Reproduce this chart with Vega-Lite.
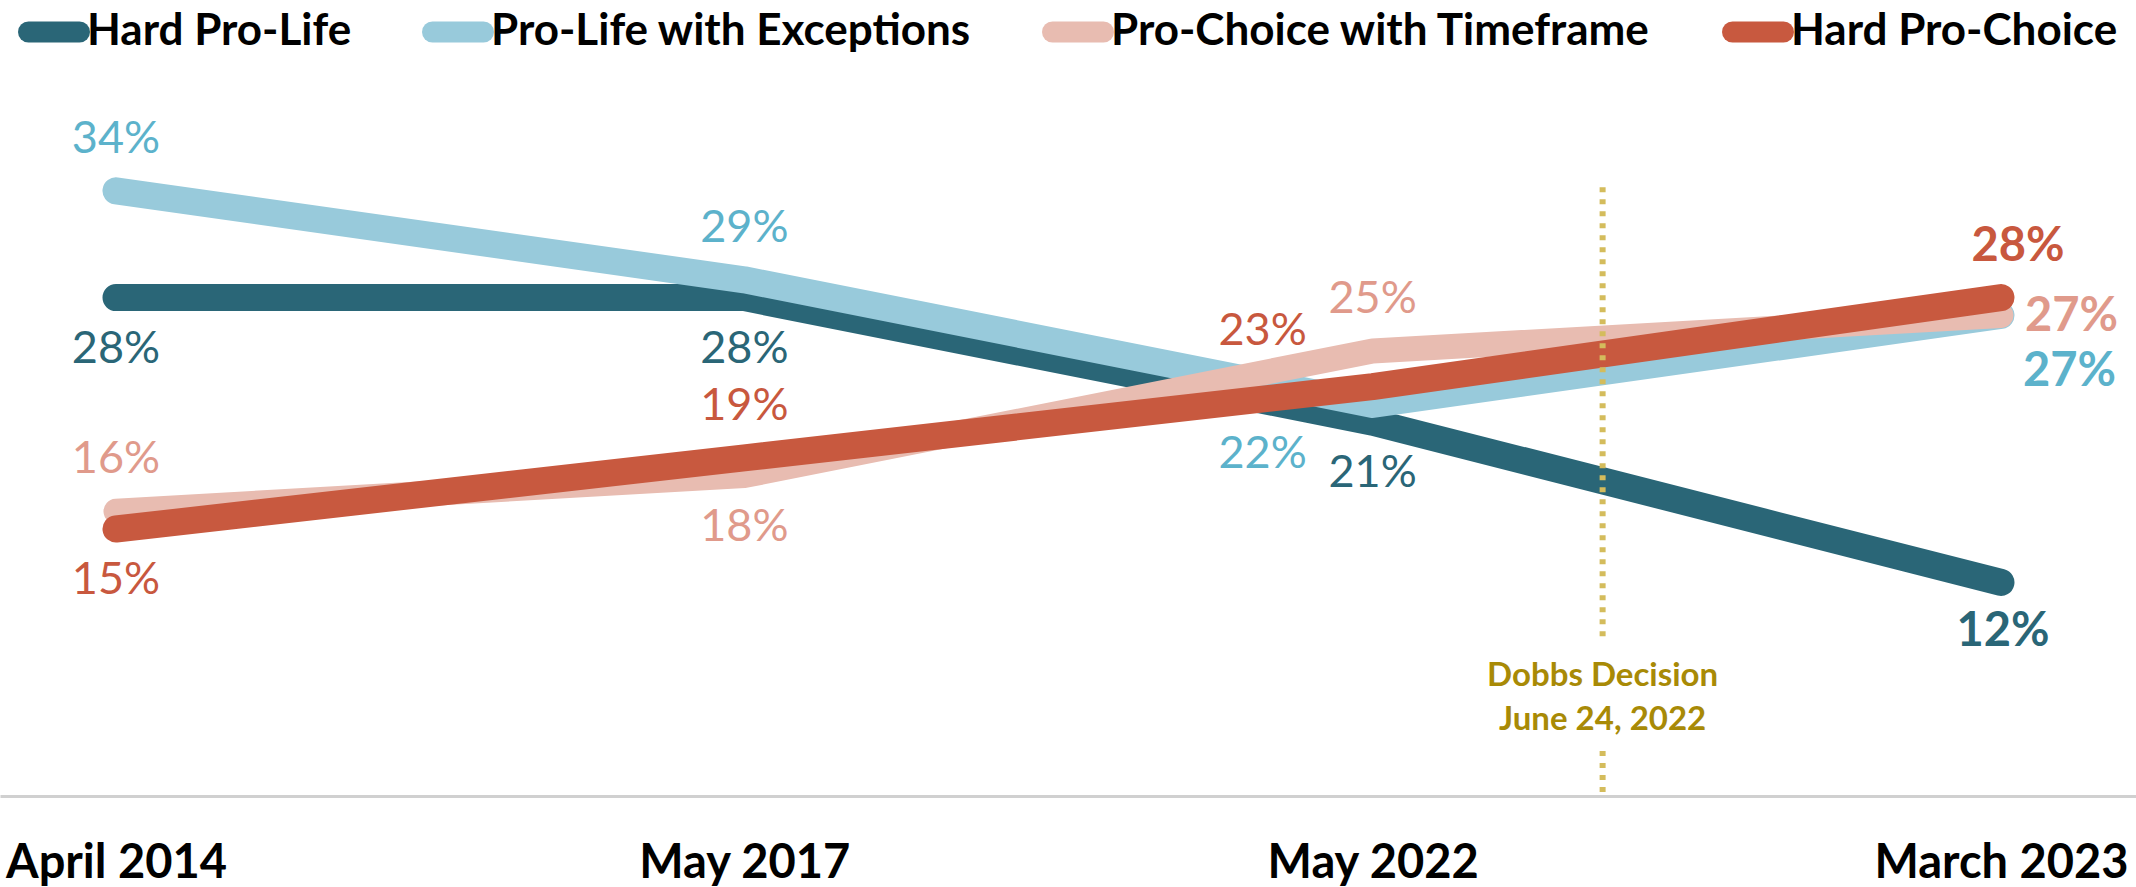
{
  "$schema": "https://vega.github.io/schema/vega-lite/v6.json",
  "width": 2136,
  "height": 887,
  "autosize": {"type": "none"},
  "padding": 0,
  "background": "white",
  "config": {"view": {"stroke": null}, "font": "Lato"},
  "datasets": {
    "survey": [
      {"date": "April 2014", "idx": 0, "series": "Hard Pro-Life", "pct": 0.28},
      {"date": "May 2017", "idx": 1, "series": "Hard Pro-Life", "pct": 0.28},
      {"date": "May 2022", "idx": 2, "series": "Hard Pro-Life", "pct": 0.21},
      {"date": "March 2023", "idx": 3, "series": "Hard Pro-Life", "pct": 0.12},
      {"date": "April 2014", "idx": 0, "series": "Pro-Life with Exceptions", "pct": 0.34},
      {"date": "May 2017", "idx": 1, "series": "Pro-Life with Exceptions", "pct": 0.29},
      {"date": "May 2022", "idx": 2, "series": "Pro-Life with Exceptions", "pct": 0.22},
      {"date": "March 2023", "idx": 3, "series": "Pro-Life with Exceptions", "pct": 0.27},
      {"date": "April 2014", "idx": 0, "series": "Pro-Choice with Timeframe", "pct": 0.16},
      {"date": "May 2017", "idx": 1, "series": "Pro-Choice with Timeframe", "pct": 0.18},
      {"date": "May 2022", "idx": 2, "series": "Pro-Choice with Timeframe", "pct": 0.25},
      {"date": "March 2023", "idx": 3, "series": "Pro-Choice with Timeframe", "pct": 0.27},
      {"date": "April 2014", "idx": 0, "series": "Hard Pro-Choice", "pct": 0.15},
      {"date": "May 2017", "idx": 1, "series": "Hard Pro-Choice", "pct": 0.19},
      {"date": "May 2022", "idx": 2, "series": "Hard Pro-Choice", "pct": 0.23},
      {"date": "March 2023", "idx": 3, "series": "Hard Pro-Choice", "pct": 0.28}
    ]
  },
  "data": {"name": "survey"},
  "encoding": {
    "x": {
      "field": "idx",
      "type": "quantitative",
      "scale": {"domain": [-0.1846, 3.2149], "nice": false, "zero": false},
      "axis": {
        "title": null,
        "values": [0, 1, 2, 3],
        "labelExpr": "['April 2014','May 2017','May 2022','March 2023'][datum.value]",
        "offset": -91,
        "ticks": false,
        "grid": false,
        "domainColor": "#d0d0d0",
        "domainWidth": 3,
        "labelFont": "Lato",
        "labelFontWeight": "bold",
        "labelFontSize": 47,
        "labelColor": "black",
        "labelPadding": 44,
        "labelBaseline": "top",
        "labelFlush": false,
        "labelOverlap": false,
        "labelBound": false,
        "labelLimit": 0
      }
    },
    "y": {
      "field": "pct",
      "type": "quantitative",
      "scale": {"domain": [-0.05112, 0.4472], "nice": false, "zero": false},
      "axis": null
    }
  },
  "layer": [
    {
      "encoding": {
        "color": {
          "field": "series",
          "type": "nominal",
          "scale": {
            "domain": ["Hard Pro-Life", "Pro-Life with Exceptions", "Pro-Choice with Timeframe", "Hard Pro-Choice"],
            "range": ["#2a6677", "#98cadb", "#e8bcb1", "#c8593f"]
          },
          "legend": {
            "title": null,
            "orient": "none",
            "legendX": 18,
            "legendY": -4,
            "direction": "horizontal",
            "symbolType": "stroke",
            "symbolStrokeWidth": 21,
            "symbolSize": 2601,
            "symbolOpacity": 1,
            "labelFont": "Lato",
            "labelFontWeight": "bold",
            "labelFontSize": 44,
            "labelColor": "black",
            "labelLimit": 0,
            "labelOffset": -3,
            "columnPadding": 38,
            "encoding": {"symbols": {"strokeCap": {"value": "round"}}}
          }
        }
      },
      "layer": [
        {"transform": [{"filter": "datum.series === 'Hard Pro-Life'"}], "mark": {"type": "line", "strokeWidth": 27, "strokeCap": "round", "strokeJoin": "round"}},
        {"transform": [{"filter": "datum.series === 'Pro-Life with Exceptions'"}], "mark": {"type": "line", "strokeWidth": 27, "strokeCap": "round", "strokeJoin": "round"}},
        {"transform": [{"filter": "datum.series === 'Pro-Choice with Timeframe'"}], "mark": {"type": "line", "strokeWidth": 25, "strokeCap": "round", "strokeJoin": "round"}},
        {"transform": [{"filter": "datum.series === 'Hard Pro-Choice'"}], "mark": {"type": "line", "strokeWidth": 27, "strokeCap": "round", "strokeJoin": "round"}}
      ]
    },
    {
      "encoding": {
        "text": {"field": "pct", "type": "quantitative", "format": ".0%"},
        "color": {
          "field": "series",
          "type": "nominal",
          "scale": {
            "domain": ["Hard Pro-Life", "Pro-Life with Exceptions", "Pro-Choice with Timeframe", "Hard Pro-Choice"],
            "range": ["#2a6677", "#5cb2cb", "#e09a8b", "#c8583e"]
          },
          "legend": null
        }
      },
      "layer": [
        {
          "transform": [{"filter": "indexof(['Pro-Life with Exceptions|0','Pro-Choice with Timeframe|0','Pro-Life with Exceptions|1','Hard Pro-Choice|1','Pro-Choice with Timeframe|2'], datum.series + '|' + datum.idx) >= 0"}],
          "mark": {"type": "text", "font": "Lato", "fontSize": 45, "baseline": "middle", "align": "center", "dy": -52}
        },
        {
          "transform": [{"filter": "indexof(['Hard Pro-Life|0','Hard Pro-Choice|0','Hard Pro-Life|1','Pro-Choice with Timeframe|1','Hard Pro-Life|2'], datum.series + '|' + datum.idx) >= 0"}],
          "mark": {"type": "text", "font": "Lato", "fontSize": 45, "baseline": "middle", "align": "center", "dy": 51}
        },
        {
          "transform": [{"filter": "datum.series === 'Hard Pro-Choice' && datum.idx === 2"}],
          "mark": {"type": "text", "font": "Lato", "fontSize": 45, "baseline": "middle", "align": "center", "dx": -110, "dy": -56}
        },
        {
          "transform": [{"filter": "datum.series === 'Pro-Life with Exceptions' && datum.idx === 2"}],
          "mark": {"type": "text", "font": "Lato", "fontSize": 45, "baseline": "middle", "align": "center", "dx": -110, "dy": 50}
        },
        {
          "transform": [{"filter": "datum.series === 'Hard Pro-Choice' && datum.idx === 3"}],
          "mark": {"type": "text", "font": "Lato", "fontWeight": "bold", "fontSize": 47, "baseline": "middle", "align": "center", "dx": 17, "dy": -51}
        },
        {
          "transform": [{"filter": "datum.series === 'Pro-Choice with Timeframe' && datum.idx === 3"}],
          "mark": {"type": "text", "font": "Lato", "fontWeight": "bold", "fontSize": 47, "baseline": "middle", "align": "left", "dx": 24, "dy": 2}
        },
        {
          "transform": [{"filter": "datum.series === 'Pro-Life with Exceptions' && datum.idx === 3"}],
          "mark": {"type": "text", "font": "Lato", "fontWeight": "bold", "fontSize": 47, "baseline": "middle", "align": "left", "dx": 22, "dy": 57}
        },
        {
          "transform": [{"filter": "datum.series === 'Hard Pro-Life' && datum.idx === 3"}],
          "mark": {"type": "text", "font": "Lato", "fontWeight": "bold", "fontSize": 47, "baseline": "middle", "align": "center", "dx": 2, "dy": 50}
        }
      ]
    },
    {
      "data": {"values": [{"event": "Dobbs Decision", "when": "June 24, 2022", "idx": 2.366, "top": 0.342, "gapTop": 0.089, "gapBottom": 0.0253, "base": 0}]},
      "layer": [
        {
          "mark": {"type": "rule", "color": "#d4bc5c", "strokeWidth": 6, "strokeDash": [5, 7]},
          "encoding": {"x": {"field": "idx", "type": "quantitative"}, "y": {"field": "top", "type": "quantitative"}, "y2": {"field": "gapTop"}}
        },
        {
          "mark": {"type": "rule", "color": "#d4bc5c", "strokeWidth": 6, "strokeDash": [5, 7]},
          "encoding": {"x": {"field": "idx", "type": "quantitative"}, "y": {"field": "gapBottom", "type": "quantitative"}, "y2": {"field": "base"}}
        },
        {
          "mark": {"type": "text", "font": "Lato", "fontWeight": "bold", "fontSize": 33, "color": "#a88a06", "baseline": "middle", "align": "center", "dy": 38},
          "encoding": {"x": {"field": "idx", "type": "quantitative"}, "y": {"field": "gapTop", "type": "quantitative"}, "text": {"field": "event", "type": "nominal"}}
        },
        {
          "mark": {"type": "text", "font": "Lato", "fontWeight": "bold", "fontSize": 33, "color": "#a88a06", "baseline": "middle", "align": "center", "dy": -31},
          "encoding": {"x": {"field": "idx", "type": "quantitative"}, "y": {"field": "gapBottom", "type": "quantitative"}, "text": {"field": "when", "type": "nominal"}}
        }
      ]
    }
  ],
  "resolve": {"scale": {"color": "independent"}}
}
